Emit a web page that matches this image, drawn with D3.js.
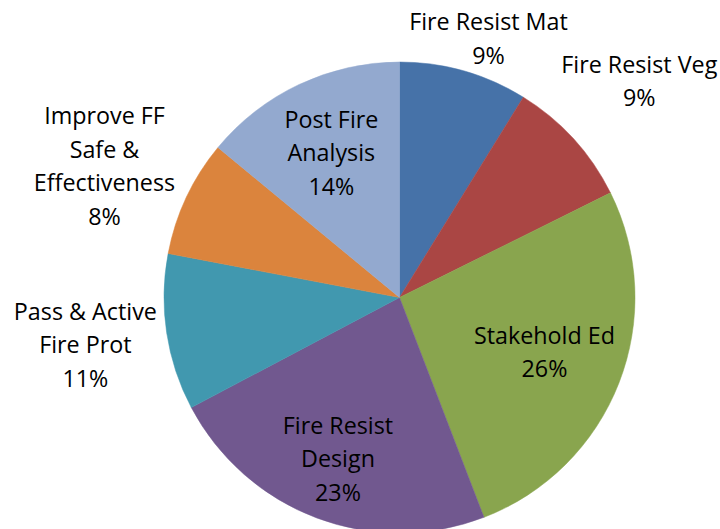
<!DOCTYPE html>
<html>
<head>
<meta charset="utf-8">
<script src="https://cdn.jsdelivr.net/npm/d3@7"></script>
<style>
  body { margin: 0; background: #fff; }
  svg { display: block; }
</style>
</head>
<body>
<div id="chart"></div>
<script>
// Slice data (clockwise from 12 o'clock)
const categories = ["Fire Resist Mat", "Fire Resist Veg", "Stakehold Ed", "Fire Resist Design",
                    "Pass & Active Fire Prot", "Improve FF Safe & Effectiveness", "Post Fire Analysis"];
const labelLines = [["Fire Resist Mat"], ["Fire Resist Veg"], ["Stakehold Ed"], ["Fire Resist", "Design"],
                    ["Pass & Active", "Fire Prot"], ["Improve FF", "Safe &", "Effectiveness"], ["Post Fire", "Analysis"]];
const values = [8.81, 8.86, 26.49, 23.1, 10.73, 8.0, 14.01];
const colors = ["#4672A8", "#AA4644", "#89A54E", "#71588F", "#4198AF", "#DB843D", "#93A9CF"];

// label placement: distance as share of the radius, and small angle nudge (degrees)
const labelRadius = [1.163, 1.372, 0.658, 0.734, 1.349, 1.371, 0.679];
const labelNudge = [3.1, 0.25, -0.6, 0.3, 0, -1.2, 0];

let width = 720;
let height = 529;
let cx = 399.5, cy = 297.5, radius = 235.5;
let lineH = 33.5;
let fontSize = 23.3;

let svg = d3.select('#chart')
    .append('svg')
    .attr('width', width)
    .attr('height', height)
    .style('background', '#fff');

const data = categories.map((c, i) => ({name: c, value: values[i], i: i}));

const pie = d3.pie()
    .sort(null)
    .value(d => d.value);

const arc = d3.arc()
    .innerRadius(0)
    .outerRadius(radius);

const arcs = pie(data);
const total = d3.sum(values);

const g = svg.append('g')
    .attr('transform', `translate(${cx}, ${cy})`);

// slices
g.selectAll('path')
    .data(arcs)
    .enter()
    .append('path')
    .attr('d', arc)
    .attr('fill', d => colors[d.data.i])
    .attr('stroke', d => colors[d.data.i])
    .attr('stroke-width', 0.5);

// labels: name lines + percent
arcs.forEach(d => {
    const mid = (d.startAngle + d.endAngle) / 2 + labelNudge[d.data.i] * Math.PI / 180;
    const r = radius * labelRadius[d.data.i];
    const x = Math.sin(mid) * r;
    const y = -Math.cos(mid) * r;
    const lines = labelLines[d.data.i].concat([Math.round(d.data.value / total * 100) + '%']);
    const n = lines.length;
    const t = g.append('text')
        .attr('text-anchor', 'middle')
        .style('font-family', '"Open Sans", sans-serif')
        .style('font-size', fontSize + 'px')
        .attr('fill', '#000');
    lines.forEach((ln, k) => {
        t.append('tspan')
            .attr('x', x)
            .attr('y', y + (k - (n - 1) / 2) * lineH + fontSize * 0.357)
            .text(ln);
    });
});
</script>
</body>
</html>
